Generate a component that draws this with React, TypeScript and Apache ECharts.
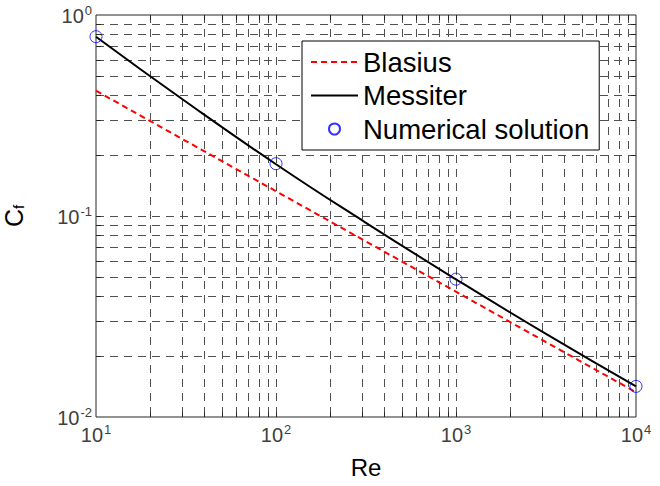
import React, { useEffect, useRef } from "react";
import * as echarts from "echarts";

const FONT = "'Liberation Sans', Arial, Helvetica, sans-serif";

// Axis ranges and tick labels
const X_MIN = 10;
const X_MAX = 10000;
const Y_MIN = 0.01;
const Y_MAX = 1;
const xTickValues = [10, 100, 1000, 10000];
const xTickExponents = ["1", "2", "3", "4"];
const yTickValues = [0.01, 0.1, 1];
const yTickExponents = ["-2", "-1", "0"];

// Grid lines (MATLAB-style log grid)
const xGridValues = [20, 30, 40, 50, 60, 70, 80, 90, 100, 200, 300, 400, 500, 600, 700, 800, 900, 1000, 2000, 3000, 4000, 5000, 6000, 7000, 8000, 9000];
const yGridValues = [0.02, 0.03, 0.04, 0.05, 0.06, 0.07, 0.08, 0.09, 0.1, 0.2, 0.3, 0.4, 0.5, 0.6, 0.7, 0.8, 0.9];

// Series data
const blasiusRe = [10, 31.6, 100, 316, 1000, 3162, 10000];
const blasiusCf = [0.42, 0.236, 0.1328, 0.0747, 0.042, 0.0236, 0.01328];
const messiterRe = [10, 31.6, 100, 316, 1000, 3162, 10000];
const messiterCf = [0.78, 0.37, 0.181, 0.0925, 0.0484, 0.0259, 0.0142];
const numericalRe = [10, 100, 1000, 10000];
const numericalCf = [0.78, 0.182, 0.0485, 0.0142];

const GRID_COLOR = "#505050";
const AXIS_COLOR = "#262626";
const TICK_LEN = 5;

function crisp(v: number) {
  return Math.round(v) + 0.5;
}

export default function App() {
  const ref = useRef<HTMLDivElement>(null);

  useEffect(() => {
    if (!ref.current) return;
    const chart = echarts.init(ref.current, undefined, { renderer: "svg" });

    const xLabel = (v: number) => {
      const i = xTickValues.findIndex((t) => Math.abs(t - v) / t < 1e-6);
      return i >= 0 ? `{b|10}{s|${xTickExponents[i]}}` : "";
    };
    const yLabel = (v: number) => {
      const i = yTickValues.findIndex((t) => Math.abs(t - v) / t < 1e-6);
      return i >= 0 ? `{b|10}{s|${yTickExponents[i]}}` : "";
    };
    const labelRich = {
      b: { fontSize: 20, fontFamily: FONT, color: "#404040", lineHeight: 22, verticalAlign: "bottom" },
      s: { fontSize: 13, fontFamily: FONT, color: "#404040", lineHeight: 13, verticalAlign: "top", padding: [0, 0, 0, 1] },
    };

    const option: any = {
      animation: false,
      backgroundColor: "#ffffff",
      grid: {
        left: 96,
        right: 24,
        top: 15,
        bottom: 69,
        containLabel: false,
        outerBoundsMode: "none",
        show: true,
        borderColor: AXIS_COLOR,
        borderWidth: 1,
        backgroundColor: "transparent",
      },
      legend: {
        orient: "vertical",
        left: 302,
        top: 41,
        padding: [7, 10, 7, 8],
        itemGap: 5.5,
        itemWidth: 47,
        itemHeight: 11,
        backgroundColor: "#ffffff",
        borderColor: "#000000",
        borderWidth: 1,
        textStyle: { fontSize: 27.5, fontFamily: FONT, color: "#000000" },
        data: [
          { name: "Blasius", itemStyle: { opacity: 0 } },
          { name: "Messiter", itemStyle: { opacity: 0 } },
          { name: "Numerical solution", icon: "circle" },
        ],
      },
      xAxis: {
        type: "log",
        logBase: 10,
        min: X_MIN,
        max: X_MAX,
        name: "Re",
        nameLocation: "middle",
        nameGap: 38,
        nameTextStyle: { fontSize: 24, fontFamily: FONT, color: "#000000" },
        axisLine: { show: false },
        axisTick: { show: false },
        splitLine: { show: false },
        minorSplitLine: { show: false },
        axisLabel: { margin: 6, formatter: xLabel, rich: labelRich, showMinLabel: true, showMaxLabel: true },
      },
      yAxis: {
        type: "log",
        logBase: 10,
        min: Y_MIN,
        max: Y_MAX,
        name: "{c|C}{f|f}",
        nameLocation: "middle",
        nameRotate: 90,
        nameGap: 70,
        nameTextStyle: {
          rich: {
            c: { fontSize: 25, fontFamily: FONT, color: "#000000", lineHeight: 27, verticalAlign: "bottom" },
            f: { fontSize: 15, fontFamily: FONT, color: "#000000", lineHeight: 15, verticalAlign: "bottom" },
          },
        },
        axisLine: { show: false },
        axisTick: { show: false },
        splitLine: { show: false },
        minorSplitLine: { show: false },
        axisLabel: { margin: 4, formatter: yLabel, rich: labelRich, showMinLabel: true, showMaxLabel: true },
      },
      series: [
        {
          type: "custom",
          name: "xgrid",
          silent: true,
          z: 1,
          clip: false,
          data: xGridValues.map((v) => [v, Y_MIN]),
          renderItem: (params: any, api: any) => {
            const v = api.value(0);
            const top = api.coord([v, Y_MAX]);
            const bot = api.coord([v, Y_MIN]);
            const x = crisp(top[0]);
            return {
              type: "group",
              children: [
                { type: "line", shape: { x1: x, y1: top[1], x2: x, y2: bot[1] }, style: { stroke: GRID_COLOR, lineWidth: 1, lineDash: [8, 6] } },
                { type: "line", shape: { x1: x, y1: bot[1], x2: x, y2: bot[1] - TICK_LEN }, style: { stroke: AXIS_COLOR, lineWidth: 1 } },
                { type: "line", shape: { x1: x, y1: top[1], x2: x, y2: top[1] + TICK_LEN }, style: { stroke: AXIS_COLOR, lineWidth: 1 } },
              ],
            };
          },
        },
        {
          type: "custom",
          name: "ygrid",
          silent: true,
          z: 1,
          clip: false,
          data: yGridValues.map((v) => [X_MIN, v]),
          renderItem: (params: any, api: any) => {
            const v = api.value(1);
            const left = api.coord([X_MIN, v]);
            const right = api.coord([X_MAX, v]);
            const y = crisp(left[1]);
            return {
              type: "group",
              children: [
                { type: "line", shape: { x1: left[0], y1: y, x2: right[0], y2: y }, style: { stroke: GRID_COLOR, lineWidth: 1, lineDash: [8, 6] } },
                { type: "line", shape: { x1: left[0], y1: y, x2: left[0] + TICK_LEN, y2: y }, style: { stroke: AXIS_COLOR, lineWidth: 1 } },
                { type: "line", shape: { x1: right[0], y1: y, x2: right[0] - TICK_LEN, y2: y }, style: { stroke: AXIS_COLOR, lineWidth: 1 } },
              ],
            };
          },
        },
        {
          type: "line",
          name: "Blasius",
          z: 3,
          symbol: "none",
          showSymbol: false,
          data: blasiusRe.map((r, i) => [r, blasiusCf[i]]),
          lineStyle: { color: "#ff0000", width: 2, type: [6, 4] },
          itemStyle: { color: "#ff0000" },
        },
        {
          type: "line",
          name: "Messiter",
          z: 4,
          symbol: "none",
          showSymbol: false,
          smooth: true,
          data: messiterRe.map((r, i) => [r, messiterCf[i]]),
          lineStyle: { color: "#000000", width: 2 },
          itemStyle: { color: "#000000" },
        },
        {
          type: "scatter",
          name: "Numerical solution",
          z: 5,
          clip: false,
          symbol: "circle",
          symbolSize: 12,
          data: numericalRe.map((r, i) => [r, numericalCf[i]]),
          itemStyle: { color: "rgba(0,0,0,0)", borderColor: "#0000ff", borderWidth: 1 },
        },
      ],
    };

    chart.setOption(option);
    return () => chart.dispose();
  }, []);

  return (
    <div
      ref={ref}
      style={{ position: "fixed", left: 0, top: 0, width: 660, height: 486, background: "#fff" }}
    />
  );
}
